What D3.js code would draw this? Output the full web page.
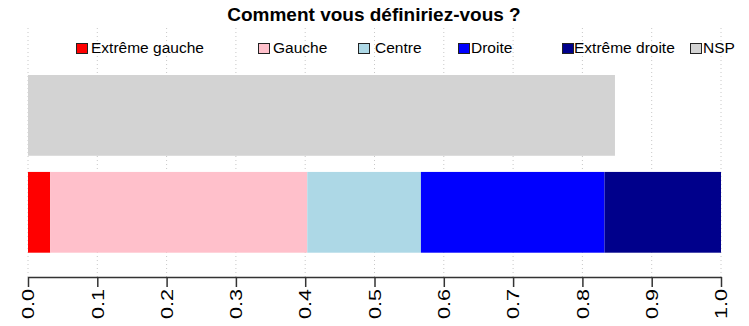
<!DOCTYPE html>
<html>
<head>
<meta charset="utf-8">
<script src="https://cdn.jsdelivr.net/npm/d3@7"></script>
<style>
  body { margin: 0; background: #fff; }
  text { font-family: "Liberation Sans", Arial, sans-serif; }
</style>
</head>
<body>
<svg id="chart" width="749" height="326"></svg>
<script>
const width = 749;
const height = 326;

// categories and values
const categories = ["Extrême gauche", "Gauche", "Centre", "Droite", "Extrême droite", "NSP"];
const colors = ["#ff0000", "#ffc0cb", "#add8e6", "#0000ff", "#00008b", "#d3d3d3"];
const positionValues = [0.032, 0.371, 0.164, 0.265, 0.168];
const nspValues = [0.847];
const tickValues = [0, 0.1, 0.2, 0.3, 0.4, 0.5, 0.6, 0.7, 0.8, 0.9, 1.0];
const rows = ["NSP", "Positionnés"];

const svg = d3.select("#chart");

const x = d3.scaleLinear().domain([0, 1]).range([28, 721]);
const y = d3.scaleBand().domain(rows).range([75, 252.7]).paddingInner(0.1667).paddingOuter(0);

// grid
svg.append("g")
  .selectAll("line")
  .data(tickValues)
  .join("line")
  .attr("x1", (d) => x(d))
  .attr("x2", (d) => x(d))
  .attr("y1", 28)
  .attr("y2", 277)
  .attr("stroke", "#c8c8c8")
  .attr("stroke-dasharray", "1,3");

// stacked bar
let stacked = [];
let cum = 0;
for (let i = 0; i < positionValues.length; i++) {
  stacked.push({ name: categories[i], x0: cum, x1: cum + positionValues[i], color: colors[i] });
  cum += positionValues[i];
}

svg.append("g")
  .selectAll("rect")
  .data(stacked)
  .join("rect")
  .attr("x", (d) => x(d.x0))
  .attr("width", (d) => x(d.x1) - x(d.x0))
  .attr("y", y("Positionnés"))
  .attr("height", y.bandwidth())
  .attr("fill", (d) => d.color);

// NSP bar
svg.append("g")
  .selectAll("rect")
  .data(nspValues)
  .join("rect")
  .attr("x", x(0))
  .attr("width", (d) => x(d) - x(0))
  .attr("y", y("NSP"))
  .attr("height", y.bandwidth())
  .attr("fill", colors[5]);

// axis
const axis = svg.append("g")
  .attr("transform", "translate(0,277)")
  .call(d3.axisBottom(x).tickValues(tickValues).tickFormat(d3.format(".1f")).tickSize(10).tickSizeOuter(0));
axis.select(".domain").attr("stroke", "#333").attr("stroke-width", 1.5);
axis.selectAll(".tick line").attr("stroke", "#333").attr("stroke-width", 1.5);
axis.selectAll(".tick text")
  .attr("fill", "#000")
  .style("font-size", "16px")
  .attr("text-anchor", "end")
  .attr("x", 0)
  .attr("y", 0)
  .attr("dy", "0.36em")
  .attr("transform", "translate(0,12) rotate(-90) scale(1.35,1)");

// title
svg.append("text")
  .attr("x", 374)
  .attr("y", 21)
  .attr("text-anchor", "middle")
  .style("font-size", "19px")
  .style("font-weight", "bold")
  .text("Comment vous définiriez-vous ?");

// legend
const legendX = [76, 258, 358, 458, 562, 690];
const textX = [91, 273, 375, 471, 574, 703];

const legend = svg.append("g")
  .selectAll("g")
  .data(categories)
  .join("g");

legend.append("rect")
  .attr("x", (d, i) => legendX[i] + 0.5)
  .attr("y", 43.5)
  .attr("width", 11)
  .attr("height", 10)
  .attr("fill", (d, i) => colors[i])
  .attr("stroke", "#222");

legend.append("text")
  .attr("x", (d, i) => textX[i])
  .attr("y", 53)
  .style("font-size", "15.5px")
  .text((d) => d);
</script>
</body>
</html>
